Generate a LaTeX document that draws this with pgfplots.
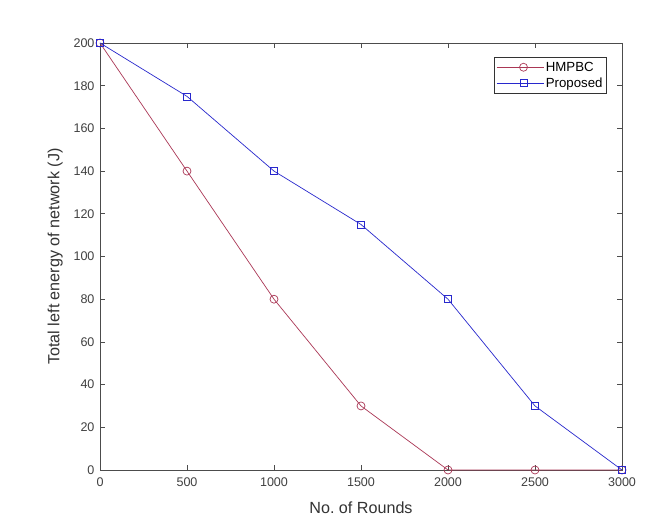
\documentclass[border=0pt]{standalone}
\usepackage{pgfplots}
\pgfplotsset{compat=1.18}
\usepackage{fontspec}
\setmainfont{Liberation Sans}
\definecolor{hm}{RGB}{170,55,85}
\definecolor{pr}{RGB}{40,40,205}
\begin{document}
\frenchspacing
\begin{tikzpicture}
\fill[white] (-100bp,-55bp) rectangle (570bp,470bp);
\path[use as bounding box] (-100bp,-55bp) rectangle (570bp,470bp);
\begin{axis}[
  at={(0,0)}, anchor=south west,
  scale only axis, width=522bp, height=427bp,
  xmin=0, xmax=3000, ymin=0, ymax=200,
  xtick={0,500,...,3000}, ytick={0,20,...,200},
  tick align=inside,
  major tick length=5bp,
  axis line style={draw=black!70, line width=0.7pt},
  tick style={draw=black!70, line width=0.6pt},
  ticklabel style={font=\fontsize{12.6}{14}\selectfont, text=black!75},
  xticklabel style={yshift=-4bp},
  yticklabel style={xshift=-2bp},
  /pgf/number format/assume math mode=true,
  /pgf/number format/set thousands separator={},
  xlabel={No. of Rounds}, ylabel={Total left energy of network (J)},
  label style={font=\fontsize{16.2}{18}\selectfont, text=black!80},
  xlabel style={at={(axis description cs:0.5,-0.089)}, anchor=center},
  ylabel style={at={(axis description cs:-0.086,0.5)}, anchor=center},
  legend style={at={(0.971,0.967)}, anchor=north east, font=\fontsize{13.3}{15}\selectfont,
    draw=black!80, line width=0.6pt, inner xsep=2pt, inner ysep=2.5pt, row sep=1pt},
  legend cell align=left,
  legend image code/.code={\path (-7bp,0bp) -- (0bp,0bp);\draw[mark repeat=2,mark phase=2] plot coordinates {(0bp,0bp) (20bp,0bp) (40bp,0bp)};},
  clip=false,
]
\addplot[color=hm, line width=0.7pt, mark=o, mark size=4bp, mark options={solid}] coordinates {
(0,200) (500,140) (1000,80) (1500,30) (2000,0) (2500,0) (3000,0)};
\addlegendentry{HMPBC}
\addplot[color=pr, line width=0.7pt, mark=square, mark size=3.5bp, mark options={solid}] coordinates {
(0,200) (500,175) (1000,140) (1500,115) (2000,80) (2500,30) (3000,0)};
\addlegendentry{Proposed}
\end{axis}
\end{tikzpicture}
\end{document}
